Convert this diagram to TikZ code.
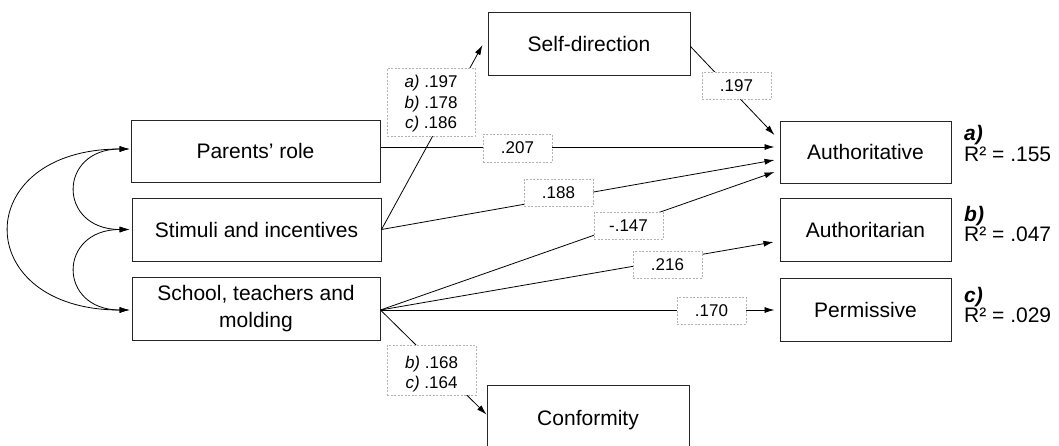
\documentclass[tikz,border=0pt]{standalone}
\usepackage{fontspec}
\setmainfont{Liberation Sans}
\usetikzlibrary{arrows.meta,calc}
\begin{document}
\begin{tikzpicture}[x=1pt,y=-1pt,
  box/.style={draw=black!85,line width=1pt,inner sep=0pt,font=\fontsize{21}{27}\selectfont,align=center},
  boxt/.style={box,text depth=0pt},
  lbl/.style={draw=black!30,dash pattern=on 2pt off 1.5pt,line width=0.8pt,fill=white,inner sep=0pt,font=\fontsize{17}{20.5}\selectfont,align=center},
  arr/.style={-{Latex[length=10pt,width=6pt]},line width=0.8pt},
  darr/.style={{Latex[length=10pt,width=6pt]}-{Latex[length=10pt,width=6pt]},line width=0.8pt},
  rtext/.style={anchor=base west,inner sep=0pt,font=\fontsize{21}{20}\selectfont},
  rhead/.style={rtext,font=\fontsize{21}{20}\selectfont\bfseries\itshape}]

\useasboundingbox (0,0) rectangle (1059,445);
\clip (0,0) rectangle (1059,445);

% boxes
\node[boxt,minimum width=249pt,minimum height=62pt] (parents) at (255.5,151) {Parents’ role};
\node[boxt,minimum width=249pt,minimum height=63pt] (stimuli) at (256.5,229.5) {Stimuli and incentives};
\node[box,minimum width=248pt,minimum height=63pt] (school) at (256,308.5) {School, teachers and\\molding};
\node[boxt,minimum width=202pt,minimum height=63pt] (self) at (589,43.5) {Self-direction};
\node[boxt,minimum width=171pt,minimum height=62pt] (auth) at (865.5,152) {Authoritative};
\node[boxt,minimum width=171pt,minimum height=63pt] (authn) at (865.5,229.5) {Authoritarian};
\node[boxt,minimum width=171pt,minimum height=63pt] (perm) at (865.5,309.5) {Permissive};
\node[boxt,minimum width=202pt,minimum height=66pt] (conf) at (588,418) {Conformity};

% correlations
\draw[darr] ($(parents.west)+(-1,-2)$) .. controls +(-72,0) and +(-72,0) .. ($(stimuli.west)+(-2,0)$);
\draw[darr] ($(stimuli.west)+(-2,0)$) .. controls +(-72,0) and +(-72,0) .. ($(school.west)+(-2,1.5)$);
\draw[darr] ($(parents.west)+(-1,-2)$) .. controls +(-160,0) and +(-160,0) .. ($(school.west)+(-2,1.5)$);

% paths
\draw[arr] (stimuli.east) -- ($(self.west)+(-5,1.5)$);
\draw[arr] ($(self.east)+(0,3)$) -- ($(auth.west)+(-5,-17)$);
\draw[arr] ($(parents.east)+(0,-4)$) -- ($(auth.west)+(-5,-5)$);
\draw[arr] (stimuli.east) -- ($(auth.west)+(-5,8)$);
\draw[arr] ($(school.east)+(0,1.5)$) -- ($(auth.west)+(-5,20)$);
\draw[arr] ($(school.east)+(0,1.5)$) -- ($(authn.west)+(-6,12.5)$);
\draw[arr] ($(school.east)+(0,1.5)$) -- ($(perm.west)+(-5,0.5)$);
\draw[arr] ($(school.east)+(0,1.5)$) -- ($(conf.north west)+(0,30)$);

% coefficient labels
\node[lbl,minimum width=88pt,minimum height=68pt] (labc) at (431,102) {\rule{0pt}{16pt}\textit{a)} .197\\\textit{b)} .178\\\textit{c)} .186};
\node[lbl,minimum width=69pt,minimum height=27pt] (l197) at (736.5,85.5) {.197};
\node[lbl,minimum width=69pt,minimum height=28pt] (l207) at (517.5,148) {.207};
\node[lbl,minimum width=69pt,minimum height=27pt] (l188) at (558.5,192.5) {.188};
\node[lbl,minimum width=69pt,minimum height=27pt] (l147) at (628.5,225.5) {-.147};
\node[lbl,minimum width=69pt,minimum height=27pt] (l216) at (667.5,264.5) {.216};
\node[lbl,minimum width=69pt,minimum height=27pt] (l170) at (711.5,310.5) {.170};
\node[lbl,minimum width=89pt,minimum height=50pt] (lbc) at (431.5,370) {\rule{0pt}{20pt}\textit{b)} .168\\\textit{c)} .164};

% R squared
\node[rhead] (ra) at (964,140.7) {a)};
\node[rtext] (rav) at (964,161) {R² = .155};
\node[rhead] (rb) at (964,221.7) {b)};
\node[rtext] (rbv) at (964,241.7) {R² = .047};
\node[rhead] (rc) at (964,302.3) {c)};
\node[rtext] (rcv) at (964,322.3) {R² = .029};
\end{tikzpicture}
\end{document}
